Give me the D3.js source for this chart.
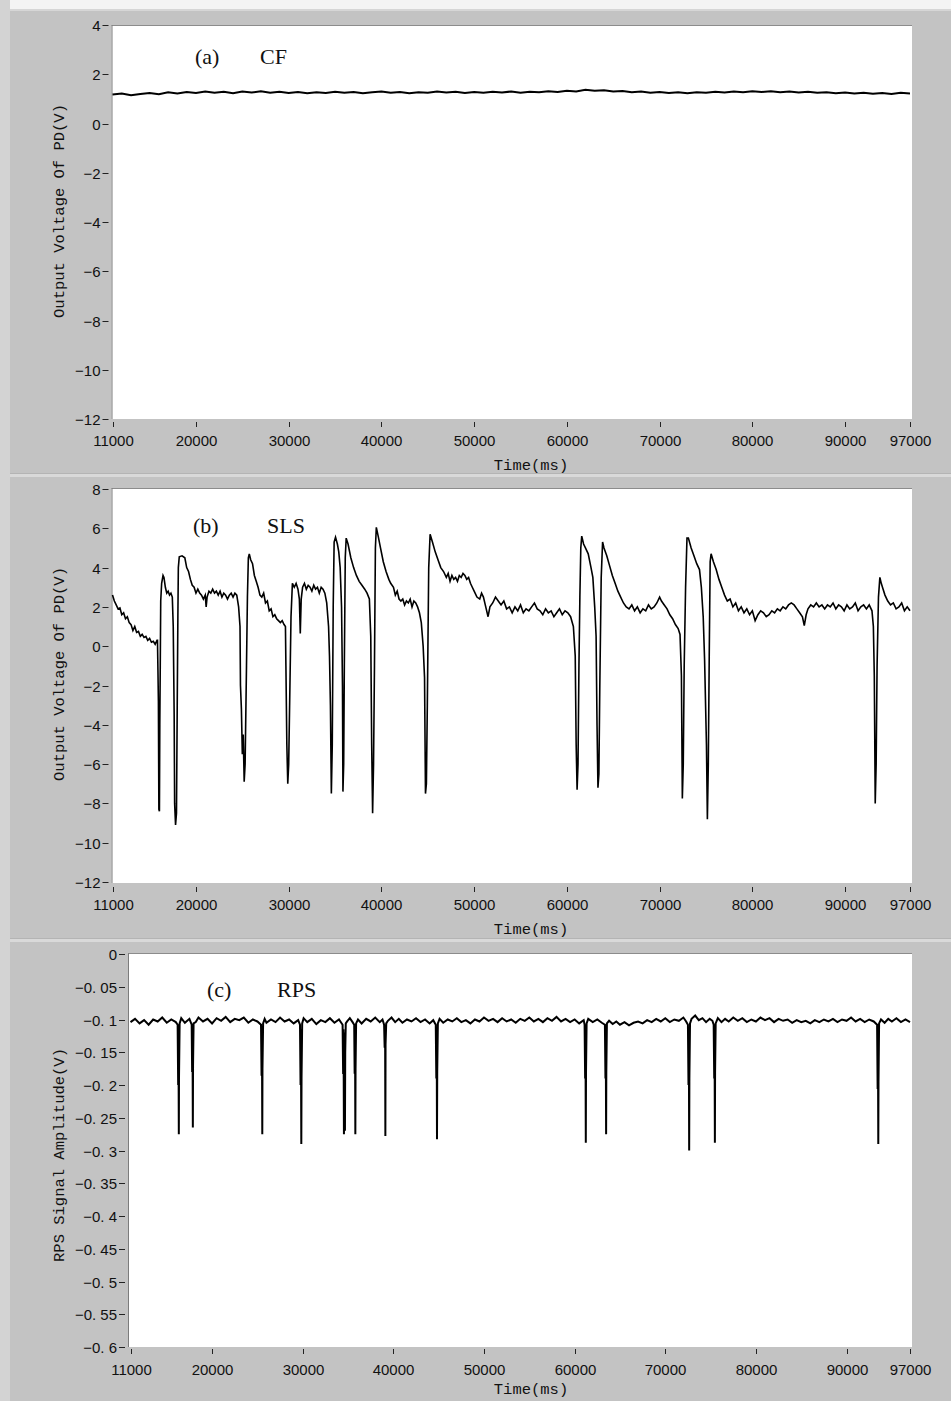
<!DOCTYPE html>
<html>
<head>
<meta charset="utf-8">
<script src="https://cdn.jsdelivr.net/npm/d3@7"></script>
<style>
  html, body { margin: 0; padding: 0; background: #c3c3c3; }
  svg { display: block; }
</style>
</head>
<body>
<svg id="chart" width="951" height="1401"></svg>
<script>
// ---------------- DATA ----------------
const xTicks = [11000, 20000, 30000, 40000, 50000, 60000, 70000, 80000, 90000, 97000];
const xTickLabels = ["11000", "20000", "30000", "40000", "50000", "60000", "70000", "80000", "90000", "97000"];
const cfYTicks = [4, 2, 0, -2, -4, -6, -8, -10, -12];
const cfYTickLabels = ["4", "2", "0", "\u22122", "\u22124", "\u22126", "\u22128", "\u221210", "\u221212"];
const slsYTicks = [8, 6, 4, 2, 0, -2, -4, -6, -8, -10, -12];
const slsYTickLabels = ["8", "6", "4", "2", "0", "\u22122", "\u22124", "\u22126", "\u22128", "\u221210", "\u221212"];
const rpsYTicks = [0, -0.05, -0.1, -0.15, -0.2, -0.25, -0.3, -0.35, -0.4, -0.45, -0.5, -0.55, -0.6];
const rpsYTickLabels = ["0", "\u22120. 05", "\u22120. 1", "\u22120. 15", "\u22120. 2", "\u22120. 25", "\u22120. 3", "\u22120. 35", "\u22120. 4", "\u22120. 45", "\u22120. 5", "\u22120. 55", "\u22120. 6"];
const panelTags = ["(a)", "(b)", "(c)"];
const panelNames = ["CF", "SLS", "RPS"];
const yTitles = ["Output Voltage Of PD(V)", "Output Voltage Of PD(V)", "RPS Signal Amplitude(V)"];
const xTitle = "Time(ms)";

// (a) CF — time (ms), voltage (V)
const cfData = [
[11000,1.18],[12000,1.22],[13000,1.15],[14000,1.20],[15000,1.24],[16000,1.19],[17000,1.27],[18000,1.22],
[19000,1.28],[20000,1.24],[21000,1.30],[22000,1.25],[23000,1.29],[24000,1.23],[25000,1.30],[26000,1.26],
[27000,1.31],[28000,1.25],[29000,1.29],[30000,1.24],[31000,1.28],[32000,1.23],[33000,1.27],[34000,1.24],
[35000,1.29],[36000,1.25],[37000,1.28],[38000,1.23],[39000,1.27],[40000,1.30],[41000,1.25],[42000,1.28],
[43000,1.23],[44000,1.27],[45000,1.25],[46000,1.30],[47000,1.26],[48000,1.29],[49000,1.24],[50000,1.28],
[51000,1.25],[52000,1.29],[53000,1.26],[54000,1.30],[55000,1.25],[56000,1.29],[57000,1.27],[58000,1.31],
[59000,1.28],[60000,1.33],[61000,1.30],[62000,1.37],[63000,1.33],[64000,1.35],[65000,1.30],[66000,1.32],
[67000,1.27],[68000,1.30],[69000,1.25],[70000,1.28],[71000,1.24],[72000,1.27],[73000,1.23],[74000,1.27],
[75000,1.25],[76000,1.29],[77000,1.26],[78000,1.30],[79000,1.27],[80000,1.31],[81000,1.28],[82000,1.31],
[83000,1.27],[84000,1.30],[85000,1.26],[86000,1.29],[87000,1.25],[88000,1.27],[89000,1.23],[90000,1.26],
[91000,1.22],[92000,1.25],[93000,1.21],[94000,1.24],[95000,1.20],[96000,1.25],[97000,1.22]
];

// (b) SLS — time (ms), voltage (V)
const slsData = [
[11000,2.6],[11200,2.3],[11400,2.1],[11600,1.9],[11800,1.95],[12000,1.6],[12200,1.7],[12400,1.4],[12600,1.5],
[12800,1.2],[13000,1.1],[13200,0.8],[13400,1.0],[13600,0.7],[13800,0.75],[14000,0.5],[14200,0.6],[14400,0.45],
[14600,0.5],[14800,0.3],[15000,0.4],[15200,0.2],[15400,0.25],[15600,0.1],[15800,0.3],
[15850,0.3],[15900,-1.2],[15950,-2.8],[16000,-8.3],[16060,-8.4],[16100,-4.0],[16150,-1.0],[16200,2.3],
[16300,3.2],[16450,3.6],[16550,3.5],[16700,3.0],[16850,2.7],[17000,2.8],[17150,2.6],[17300,2.7],[17450,2.5],
[17550,1.0],[17650,-3.5],[17700,-8.0],[17800,-9.1],[17900,-8.5],[17980,-3.0],[18050,1.5],[18100,4.0],
[18200,4.55],[18500,4.6],[18800,4.5],[19000,4.0],[19200,3.8],[19400,3.4],[19600,3.1],[19800,3.0],[20000,2.7],
[20200,2.9],[20400,2.7],[20600,2.6],[20800,2.4],[21000,2.6],[21100,2.0],[21200,2.5],[21400,2.8],[21600,2.7],
[21800,2.9],[22000,2.7],[22200,2.8],[22400,2.6],[22600,2.8],[22800,2.5],[23000,2.7],[23200,2.6],[23400,2.4],
[23600,2.6],[23800,2.7],[24000,2.5],[24200,2.7],[24400,2.6],[24600,2.0],[24750,1.0],[24800,-2.0],[24900,-3.2],
[25000,-5.5],[25100,-4.5],[25200,-6.9],[25300,-6.0],[25450,-1.0],[25550,2.5],[25650,4.5],[25750,4.7],[25900,4.4],
[26100,4.2],[26300,3.6],[26500,3.3],[26700,3.0],[26900,2.6],[27100,2.5],[27300,2.7],[27500,2.2],[27700,2.3],
[27900,1.8],[28100,1.9],[28300,1.5],[28500,1.6],[28700,1.4],[28900,1.3],[29100,1.2],[29300,1.3],[29500,1.1],
[29650,1.0],[29700,-1.0],[29800,-5.0],[29900,-7.0],[30000,-6.0],[30100,-3.0],[30250,1.5],[30400,3.2],[30600,3.0],
[30800,3.2],[31000,2.9],[31150,2.4],[31250,0.65],[31350,2.4],[31500,3.0],[31700,3.2],[31900,2.9],[32100,3.1],
[32300,3.0],[32500,2.8],[32700,3.1],[32900,2.9],[33100,3.0],[33300,2.7],[33500,3.0],[33700,2.9],[33900,2.7],
[34100,2.2],[34300,1.0],[34400,-0.5],[34500,-3.0],[34600,-7.5],[34700,-5.0],[34800,2.0],[34900,5.3],[35050,5.55],
[35250,5.2],[35400,4.8],[35550,4.0],[35700,2.0],[35800,-2.0],[35850,-7.4],[35930,-6.0],[36000,-1.0],[36100,4.5],
[36200,5.5],[36400,5.2],[36700,4.5],[37000,4.0],[37300,3.6],[37600,3.3],[37900,3.1],[38200,2.9],[38450,2.7],
[38700,2.4],[38850,0.5],[38950,-5.0],[39050,-8.5],[39150,-6.0],[39250,-1.0],[39350,5.0],[39450,6.05],[39650,5.6],
[39900,5.0],[40200,4.3],[40500,3.8],[40800,3.4],[41000,3.2],[41300,3.0],[41500,2.6],[41700,2.8],[41900,2.4],
[42100,2.3],[42300,2.4],[42500,2.1],[42700,2.3],[42900,2.2],[43100,2.4],[43300,2.0],[43500,2.3],[43700,2.2],
[43900,2.0],[44100,1.7],[44300,1.2],[44500,0.0],[44650,-1.6],[44750,-7.5],[44850,-7.0],[44950,-3.0],[45100,4.0],
[45250,5.7],[45500,5.3],[45800,4.8],[46100,4.4],[46400,4.0],[46700,3.8],[47000,3.5],[47200,3.7],[47400,3.3],
[47600,3.6],[47800,3.4],[48000,3.5],[48200,3.3],[48400,3.6],[48600,3.5],[48800,3.7],[49000,3.6],[49200,3.4],
[49400,3.5],[49600,3.2],[49800,3.0],[50000,2.8],[50300,2.5],[50600,2.4],[50800,2.7],[51000,2.5],[51300,1.9],
[51500,1.5],[51700,2.0],[52000,2.2],[52300,2.5],[52600,2.3],[52900,2.1],[53200,2.3],[53500,1.9],[53800,2.0],
[54100,1.7],[54400,2.0],[54700,1.8],[55000,2.1],[55300,1.7],[55600,1.9],[55900,1.8],[56200,2.0],[56500,2.2],
[56800,1.9],[57100,1.8],[57400,1.6],[57700,1.9],[58000,1.7],[58300,1.8],[58600,1.5],[58900,1.7],[59200,1.9],
[59500,1.6],[59800,1.8],[60100,1.7],[60400,1.5],[60700,1.0],[60900,-0.5],[61000,-5.0],[61100,-7.3],[61200,-6.0],
[61300,-1.0],[61400,2.5],[61500,5.0],[61600,5.6],[61800,5.2],[62000,5.0],[62300,4.7],[62600,4.0],[62800,3.5],
[63000,2.0],[63150,0.5],[63250,-4.0],[63350,-7.2],[63450,-6.5],[63550,-2.0],[63700,3.5],[63850,5.3],[64000,5.0],
[64300,4.6],[64600,4.1],[64900,3.6],[65200,3.2],[65500,2.8],[65800,2.5],[66100,2.2],[66400,2.0],[66700,1.9],
[67000,2.1],[67300,1.8],[67600,2.0],[67900,1.7],[68200,1.9],[68500,1.8],[68800,2.1],[69100,1.9],[69400,2.0],
[69700,2.2],[70000,2.5],[70200,2.3],[70500,2.1],[70800,1.9],[71100,1.6],[71400,1.4],[71700,1.1],[72000,0.9],
[72200,0.6],[72350,-1.5],[72450,-7.75],[72550,-6.0],[72650,-1.0],[72800,3.0],[72950,5.5],[73100,5.5],[73400,5.0],
[73700,4.6],[74000,4.2],[74300,3.9],[74500,3.0],[74700,1.5],[74850,-0.7],[75050,-5.0],[75150,-8.8],[75250,-6.0],
[75350,-0.5],[75450,4.3],[75550,4.7],[75800,4.3],[76100,3.9],[76400,3.4],[76700,3.0],[77000,2.6],[77300,2.3],
[77600,2.4],[77900,2.0],[78200,2.2],[78500,1.8],[78800,2.0],[79100,1.7],[79400,1.9],[79700,1.6],[80000,1.8],
[80300,1.3],[80600,1.6],[80900,1.8],[81200,1.7],[81500,1.5],[81800,1.6],[82100,1.8],[82400,1.7],[82700,1.9],
[83000,1.8],[83300,2.0],[83600,1.9],[83900,2.1],[84200,2.2],[84500,2.1],[84800,1.9],[85100,1.7],[85400,1.5],
[85600,1.05],[85800,1.6],[86000,1.9],[86300,2.1],[86600,2.0],[86900,2.2],[87200,2.0],[87500,2.1],[87800,1.9],
[88100,2.1],[88400,2.0],[88700,2.2],[89000,1.9],[89300,2.1],[89600,2.0],[89900,1.8],[90200,2.1],[90500,1.9],
[90800,2.0],[91100,2.2],[91400,1.8],[91700,2.0],[92000,2.1],[92300,1.9],[92600,2.1],[92900,1.8],[93050,1.0],
[93150,-1.5],[93250,-8.0],[93350,-6.0],[93450,-1.0],[93600,2.5],[93750,3.5],[93900,3.2],[94100,2.9],[94300,2.6],
[94600,2.3],[94900,2.1],[95200,2.2],[95500,1.9],[95800,2.0],[96100,2.2],[96400,1.8],[96700,2.0],[97000,1.8]
];

// (c) RPS baseline — time (ms), amplitude (V)
const rpsBaseline = [
[11000,-0.104],[11500,-0.099],[12000,-0.106],[12500,-0.101],[13000,-0.108],[13500,-0.100],[14000,-0.103],
[14500,-0.097],[15000,-0.105],[15500,-0.100],[16000,-0.104],[16600,-0.098],[17000,-0.105],[17500,-0.099],
[18200,-0.104],[18500,-0.097],[19000,-0.103],[19500,-0.099],[20000,-0.106],[20500,-0.098],[21000,-0.102],
[21500,-0.096],[22000,-0.104],[22500,-0.099],[23000,-0.101],[23500,-0.097],[24000,-0.105],[24500,-0.100],
[25000,-0.103],[25800,-0.099],[26000,-0.105],[26500,-0.100],[27000,-0.104],[27500,-0.097],[28000,-0.103],
[28500,-0.100],[29000,-0.106],[29500,-0.101],[30100,-0.098],[30500,-0.104],[31000,-0.099],[31500,-0.107],
[32000,-0.101],[32500,-0.104],[33000,-0.098],[33500,-0.105],[34000,-0.100],[34900,-0.103],[35200,-0.098],
[35500,-0.104],[36100,-0.100],[36500,-0.106],[37000,-0.099],[37500,-0.103],[38000,-0.097],[38500,-0.104],
[38800,-0.100],[39400,-0.102],[39800,-0.097],[40200,-0.104],[40600,-0.099],[41000,-0.105],[41500,-0.100],
[42000,-0.103],[42500,-0.098],[43000,-0.104],[43500,-0.100],[44000,-0.106],[44400,-0.101],[45100,-0.099],
[45500,-0.105],[46000,-0.100],[46500,-0.103],[47000,-0.098],[47500,-0.104],[48000,-0.101],[48500,-0.106],
[49000,-0.100],[49500,-0.103],[50000,-0.097],[50500,-0.102],[51000,-0.099],[51500,-0.104],[52000,-0.098],
[52500,-0.103],[53000,-0.100],[53500,-0.105],[54000,-0.099],[54500,-0.102],[55000,-0.097],[55500,-0.103],
[56000,-0.099],[56500,-0.104],[57000,-0.098],[57500,-0.102],[58000,-0.096],[58500,-0.103],[59000,-0.099],
[59500,-0.104],[60000,-0.100],[60500,-0.106],[61000,-0.101],[61500,-0.099],[62000,-0.104],[62500,-0.100],
[63000,-0.105],[63800,-0.102],[64200,-0.107],[64600,-0.103],[65000,-0.108],[65500,-0.104],[66000,-0.109],
[66500,-0.105],[67000,-0.103],[67500,-0.106],[68000,-0.101],[68500,-0.104],[69000,-0.099],[69500,-0.103],
[70000,-0.098],[70500,-0.104],[71000,-0.100],[71500,-0.102],[72000,-0.097],[72300,-0.103],[72900,-0.099],
[73300,-0.094],[73700,-0.101],[74100,-0.098],[74500,-0.104],[74900,-0.099],[75200,-0.102],[75800,-0.098],
[76200,-0.104],[76600,-0.099],[77000,-0.103],[77500,-0.097],[78000,-0.102],[78500,-0.098],[79000,-0.104],
[79500,-0.100],[80000,-0.103],[80500,-0.097],[81000,-0.101],[81500,-0.098],[82000,-0.104],[82500,-0.099],
[83000,-0.102],[83500,-0.100],[84000,-0.105],[84500,-0.101],[85000,-0.104],[85500,-0.102],[86000,-0.106],
[86500,-0.101],[87000,-0.104],[87500,-0.100],[88000,-0.103],[88500,-0.099],[89000,-0.104],[89500,-0.100],
[90000,-0.102],[90500,-0.097],[91000,-0.103],[91500,-0.099],[92000,-0.104],[92500,-0.100],[93000,-0.103],
[93800,-0.100],[94200,-0.105],[94600,-0.099],[95000,-0.103],[95500,-0.098],[96000,-0.104],[96500,-0.100],
[97000,-0.104]
];

// (c) RPS pulses — time (ms), amplitude (V)
const rpsPulses = [
[16200,-0.108],[16260,-0.200],[16290,-0.115],[16310,-0.195],[16332,-0.275],[16350,-0.190],[16420,-0.106],
[17750,-0.108],[17800,-0.180],[17830,-0.115],[17855,-0.175],[17878,-0.265],[17900,-0.170],[17960,-0.106],
[25400,-0.108],[25460,-0.186],[25490,-0.115],[25515,-0.180],[25540,-0.275],[25560,-0.175],[25630,-0.106],
[29700,-0.108],[29760,-0.200],[29790,-0.115],[29820,-0.195],[29845,-0.290],[29870,-0.190],[29940,-0.106],
[34400,-0.108],[34460,-0.183],[34490,-0.115],[34520,-0.178],[34549,-0.275],[34580,-0.180],[34620,-0.120],[34660,-0.270],[34690,-0.150],[34750,-0.106],
[35680,-0.108],[35730,-0.183],[35760,-0.115],[35785,-0.178],[35807,-0.275],[35830,-0.175],[35890,-0.106],
[38980,-0.108],[39040,-0.143],[39070,-0.112],[39095,-0.140],[39119,-0.278],[39140,-0.138],[39210,-0.106],
[44680,-0.108],[44740,-0.190],[44770,-0.115],[44795,-0.185],[44815,-0.283],[44840,-0.180],[44910,-0.106],
[61100,-0.108],[61160,-0.190],[61190,-0.115],[61210,-0.185],[61232,-0.288],[61255,-0.180],[61320,-0.106],
[63340,-0.108],[63400,-0.190],[63430,-0.115],[63450,-0.185],[63473,-0.275],[63495,-0.180],[63560,-0.106],
[72500,-0.108],[72560,-0.200],[72590,-0.115],[72615,-0.195],[72636,-0.300],[72660,-0.190],[72730,-0.106],
[75340,-0.108],[75400,-0.190],[75430,-0.115],[75450,-0.185],[75473,-0.288],[75495,-0.180],[75560,-0.106],
[93370,-0.108],[93430,-0.206],[93460,-0.115],[93480,-0.200],[93502,-0.290],[93525,-0.195],[93590,-0.106]
];

// ---------------- DRAWING ----------------
const svg = d3.select("#chart");
const W = 951, H = 1401;

svg.append("rect").attr("x", 0).attr("y", 0).attr("width", W).attr("height", H).attr("fill", "#c3c3c3");
svg.append("rect").attr("x", 0).attr("y", 0).attr("width", W).attr("height", 9).attr("fill", "#f4f4f4");
svg.append("rect").attr("x", 0).attr("y", 9).attr("width", W).attr("height", 2).attr("fill", "#d6d6d6");
svg.append("rect").attr("x", 0).attr("y", 0).attr("width", 10).attr("height", H).attr("fill", "#d3d3d3");
[474, 939].forEach(y => {
  svg.append("rect").attr("x", 10).attr("y", y - 1).attr("width", W - 10).attr("height", 1).attr("fill", "#b4b4b4");
  svg.append("rect").attr("x", 10).attr("y", y).attr("width", W - 10).attr("height", 3).attr("fill", "#d9d9d9");
});

const panels = [
  { series: cfData, yTicks: cfYTicks, yLabels: cfYTickLabels, yDom: [-12, 4],
    left: 111.5, right: 912, top: 25, bottom: 419, xr: [112.5, 910], yr: [419, 25],
    tickY: 422, labelY: 446, titleY: 470, yTitleY: 211, tagX: 195, nameX: 260, tagY: 64, stroke: 2.0 },
  { series: slsData, yTicks: slsYTicks, yLabels: slsYTickLabels, yDom: [-12, 8],
    left: 111.5, right: 912, top: 488, bottom: 883, xr: [112.5, 910], yr: [882, 489],
    tickY: 887, labelY: 910, titleY: 934, yTitleY: 674, tagX: 193, nameX: 267, tagY: 533, stroke: 1.6 },
  { series: rpsBaseline.concat(rpsPulses).sort((a, b) => a[0] - b[0]), yTicks: rpsYTicks, yLabels: rpsYTickLabels,
    yDom: [-0.6, 0],
    left: 128, right: 912, top: 953, bottom: 1347, xr: [130.5, 910], yr: [1347, 954],
    tickY: 1349, labelY: 1375, titleY: 1394, yTitleY: 1155, tagX: 207, nameX: 277, tagY: 997, stroke: 2.0 }
];

panels.forEach((p, i) => {
  const g = svg.append("g");
  const x = d3.scaleLinear().domain([11000, 97000]).range(p.xr);
  const y = d3.scaleLinear().domain(p.yDom).range(p.yr);

  g.append("rect").attr("x", p.left).attr("y", p.top).attr("width", p.right - p.left).attr("height", p.bottom - p.top)
    .attr("fill", "#ffffff");
  g.append("line").attr("x1", p.left).attr("x2", p.right).attr("y1", p.top + 0.5).attr("y2", p.top + 0.5)
    .attr("stroke", "#8c8c8c").attr("stroke-width", 1);
  g.append("line").attr("x1", p.left + 0.5).attr("x2", p.left + 0.5).attr("y1", p.top).attr("y2", p.bottom)
    .attr("stroke", "#7c7c7c").attr("stroke-width", 1);

  p.yTicks.forEach((t, k) => {
    const yy = Math.round(y(t)) + 0.5;
    g.append("line").attr("x1", p.left - 9).attr("x2", p.left - 3).attr("y1", yy).attr("y2", yy)
      .attr("stroke", "#222").attr("stroke-width", 1);
    g.append("text").attr("x", p.left - 11).attr("y", yy + 5).attr("text-anchor", "end")
      .attr("font-family", "'Liberation Sans', Arial, sans-serif").attr("font-size", 15).attr("fill", "#111")
      .text(p.yLabels[k]);
  });

  xTicks.forEach((t, k) => {
    const xx = Math.round(x(t)) + 0.5;
    g.append("line").attr("x1", xx).attr("x2", xx).attr("y1", p.tickY).attr("y2", p.tickY + 5)
      .attr("stroke", "#222").attr("stroke-width", 1);
    g.append("text").attr("x", xx).attr("y", p.labelY).attr("text-anchor", "middle")
      .attr("font-family", "'Liberation Sans', Arial, sans-serif").attr("font-size", 15).attr("fill", "#111")
      .text(xTickLabels[k]);
  });

  g.append("text").attr("x", 531).attr("y", p.titleY).attr("text-anchor", "middle")
    .attr("font-family", "'Liberation Mono', 'DejaVu Sans Mono', monospace").attr("font-size", 15.5).attr("fill", "#111")
    .text(xTitle);
  g.append("text").attr("transform", `translate(64,${p.yTitleY}) rotate(-90)`).attr("text-anchor", "middle")
    .attr("font-family", "'Liberation Mono', 'DejaVu Sans Mono', monospace").attr("font-size", 15.5).attr("fill", "#111")
    .text(yTitles[i]);

  const line = d3.line().x(d => x(d[0])).y(d => y(d[1]));
  g.append("path").attr("d", line(p.series)).attr("fill", "none").attr("stroke", "#000")
    .attr("stroke-width", p.stroke).attr("stroke-linejoin", "miter");

  g.append("text").attr("x", p.tagX).attr("y", p.tagY)
    .attr("font-family", "'Liberation Serif', 'Times New Roman', serif").attr("font-size", 22).attr("fill", "#111")
    .text(panelTags[i]);
  g.append("text").attr("x", p.nameX).attr("y", p.tagY)
    .attr("font-family", "'Liberation Serif', 'Times New Roman', serif").attr("font-size", 22).attr("fill", "#111")
    .text(panelNames[i]);
});
</script>
</body>
</html>
